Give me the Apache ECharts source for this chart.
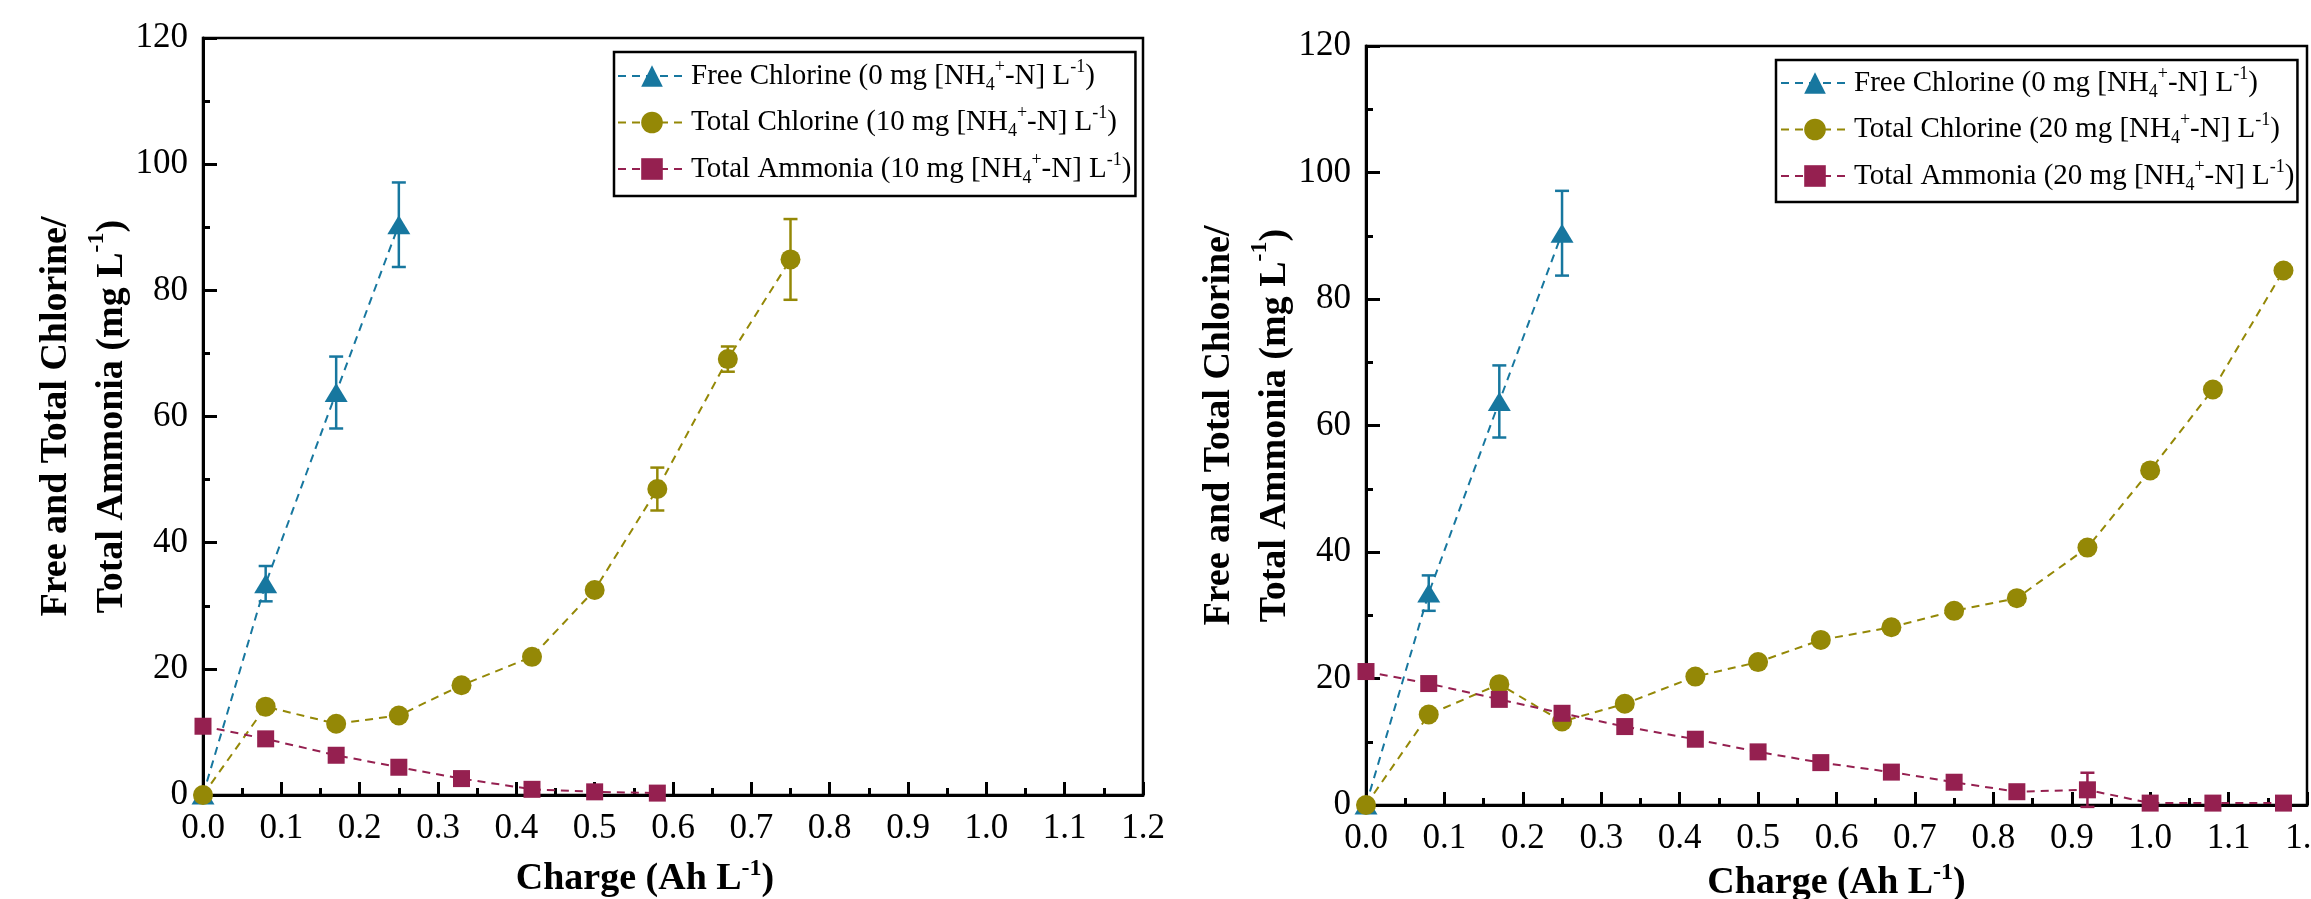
<!DOCTYPE html>
<html>
<head>
<meta charset="utf-8">
<title>Chlorine / Ammonia vs Charge</title>
<script src="https://cdn.jsdelivr.net/npm/echarts@6/dist/echarts.min.js"></script>
<style>
  html, body { margin: 0; padding: 0; background: #fff; }
  #chart { width: 2311px; height: 899px; }
</style>
</head>
<body>
<div id="chart"></div>
<script>
// ---- data ----
const chargeFree = [0, 0.08, 0.17, 0.25];
const freeCl = [0, 33.5, 63.8, 90.4];
const freeClErr = [0, 2.8, 5.7, 6.7];

// left panel: 10 mg NH4+-N / L
const charge10 = [0, 0.08, 0.17, 0.25, 0.33, 0.42, 0.5, 0.58, 0.67, 0.75];
const totalCl10 = [0, 14.0, 11.3, 12.6, 17.4, 21.9, 32.5, 48.5, 69.1, 84.9];
const totalCl10Err = [0, 0, 0, 0, 0, 0, 0, 3.4, 2.0, 6.4];
const chargeNh10 = [0, 0.08, 0.17, 0.25, 0.33, 0.42, 0.5, 0.58];
const ammonia10 = [10.9, 8.9, 6.3, 4.4, 2.6, 0.9, 0.5, 0.3];

// right panel: 20 mg NH4+-N / L
const charge20 = [0, 0.08, 0.17, 0.25, 0.33, 0.42, 0.5, 0.58, 0.67, 0.75, 0.83, 0.92, 1.0, 1.08, 1.17];
const totalCl20 = [0, 14.3, 19.1, 13.2, 16.0, 20.3, 22.6, 26.1, 28.1, 30.7, 32.7, 40.7, 52.9, 65.7, 84.5];
const ammonia20 = [21.1, 19.2, 16.7, 14.5, 12.4, 10.4, 8.4, 6.7, 5.2, 3.6, 2.1, 2.4, 0.3, 0.3, 0.3];
const ammonia20Err = [0, 0, 0, 0, 0, 0, 0, 0, 0, 0, 0, 2.7, 0, 0, 0];

const yTicks = [0, 20, 40, 60, 80, 100, 120];

const BLUE = '#17779f';
const OLIVE = '#948806';
const MAROON = '#952050';
const FONT = 'Liberation Serif';

// legend labels (rich text for sub/superscripts)
const legendText = {
  'Free Chlorine': '{a|Free Chlorine (0 mg [NH}{sub|4}{sup|+}{a|-N] L}{sup|-1}{a|)}',
  'Total Chlorine 10': '{a|Total Chlorine (10 mg [NH}{sub|4}{sup|+}{a|-N] L}{sup|-1}{a|)}',
  'Total Ammonia 10': '{a|Total Ammonia (10 mg [NH}{sub|4}{sup|+}{a|-N] L}{sup|-1}{a|)}',
  'Total Chlorine 20': '{a|Total Chlorine (20 mg [NH}{sub|4}{sup|+}{a|-N] L}{sup|-1}{a|)}',
  'Total Ammonia 20': '{a|Total Ammonia (20 mg [NH}{sub|4}{sup|+}{a|-N] L}{sup|-1}{a|)}'
};

function zip(xs, ys) {
  return ys.map((y, i) => [xs[i], y]);
}

function lineSeries(name, xs, ys, color, symbol, size, idx) {
  return {
    name: name,
    type: 'line',
    xAxisIndex: idx,
    yAxisIndex: idx,
    data: zip(xs, ys),
    symbol: symbol,
    symbolSize: size,
    showAllSymbol: true,
    color: color,
    itemStyle: { color: color },
    lineStyle: { color: color, width: 2, type: [8, 6] },
    z: 3,
    animation: false
  };
}

// error bars drawn through the axes' own coord()
function errorSeries(xs, ys, errs, color, idx) {
  const data = [];
  errs.forEach((e, i) => { if (e > 0) data.push([xs[i], ys[i], e]); });
  return {
    type: 'custom',
    xAxisIndex: idx,
    yAxisIndex: idx,
    data: data,
    encode: { x: 0, y: 1 },
    z: 2,
    animation: false,
    renderItem(params, api) {
      const x = api.value(0), y = api.value(1), e = api.value(2);
      const hi = api.coord([x, y + e]);
      const lo = api.coord([x, y - e]);
      const w = 7;
      const style = { stroke: color, lineWidth: 2.5 };
      return {
        type: 'group',
        children: [
          { type: 'line', shape: { x1: hi[0], y1: hi[1], x2: lo[0], y2: lo[1] }, style: style },
          { type: 'line', shape: { x1: hi[0] - w, y1: hi[1], x2: hi[0] + w, y2: hi[1] }, style: style },
          { type: 'line', shape: { x1: lo[0] - w, y1: lo[1], x2: lo[0] + w, y2: lo[1] }, style: style }
        ]
      };
    }
  };
}

function xAxis(idx, gap, pad) {
  return {
    type: 'value',
    gridIndex: idx,
    min: 0,
    max: 1.2,
    interval: 0.1,
    axisLine: { show: true, onZero: false, lineStyle: { color: '#000', width: 3 } },
    axisTick: { show: true, inside: true, length: 13, lineStyle: { color: '#000', width: 3 } },
    minorTick: { show: true, splitNumber: 2, length: 7, lineStyle: { color: '#000', width: 3 } },
    splitLine: { show: false },
    axisLabel: {
      color: '#000', fontSize: 35, fontFamily: FONT, margin: 16,
      showMinLabel: true, showMaxLabel: true,
      formatter: v => v.toFixed(1)
    },
    name: '{b|Charge (Ah L}{sup|-1}{b|)}',
    nameLocation: 'middle',
    nameGap: gap,
    nameTextStyle: {
      padding: pad,
      rich: {
        b: { fontSize: 38, fontWeight: 'bold', fontFamily: FONT, color: '#000', lineHeight: 44 },
        sup: { fontSize: 24, fontWeight: 'bold', fontFamily: FONT, color: '#000', lineHeight: 22, verticalAlign: 'top' }
      }
    }
  };
}

function yAxis(idx, gap) {
  return {
    type: 'value',
    gridIndex: idx,
    min: yTicks[0],
    max: yTicks[yTicks.length - 1],
    interval: yTicks[1] - yTicks[0],
    axisLine: { show: true, onZero: false, lineStyle: { color: '#000', width: 3 } },
    axisTick: { show: true, inside: true, length: 14, lineStyle: { color: '#000', width: 3 } },
    minorTick: { show: true, splitNumber: 2, length: 7, lineStyle: { color: '#000', width: 3 } },
    splitLine: { show: false },
    axisLabel: { color: '#000', fontSize: 35, fontFamily: FONT, margin: 15 },
    name: '{b|Free and Total Chlorine/}\n{b|Total Ammonia (mg L}{sup|-1}{b|)}',
    nameLocation: 'middle',
    nameRotate: 90,
    nameGap: gap,
    nameTextStyle: {
      rich: {
        b: { fontSize: 38, fontWeight: 'bold', fontFamily: FONT, color: '#000', lineHeight: 56 },
        sup: { fontSize: 24, fontWeight: 'bold', fontFamily: FONT, color: '#000', lineHeight: 30, verticalAlign: 'top' }
      }
    }
  };
}

function legend(idx, names, left, top, pad) {
  return {
    data: names,
    orient: 'vertical',
    left: left,
    top: top,
    padding: pad,
    itemGap: 10.5,
    itemWidth: 68,
    itemHeight: 27,
    borderColor: '#000',
    borderWidth: 2.5,
    selectedMode: false,
    formatter: n => legendText[n],
    textStyle: {
      rich: {
        a: { fontSize: 29, fontFamily: FONT, color: '#000', lineHeight: 36 },
        sub: { fontSize: 18, fontFamily: FONT, color: '#000', lineHeight: 14, verticalAlign: 'bottom' },
        sup: { fontSize: 18, fontFamily: FONT, color: '#000', lineHeight: 20, verticalAlign: 'top' }
      }
    }
  };
}

const chart = echarts.init(document.getElementById('chart'), null, { renderer: 'canvas' });

const option = {
  backgroundColor: '#fff',
  animation: false,
  textStyle: { fontFamily: FONT },
  grid: [
    { left: 203, top: 38, width: 940, height: 757, show: true, borderColor: '#000', borderWidth: 2.5,
      backgroundColor: 'transparent', containLabel: false, outerBoundsMode: 'none' },
    { left: 1366, top: 46, width: 941, height: 759, show: true, borderColor: '#000', borderWidth: 2.5,
      backgroundColor: 'transparent', containLabel: false, outerBoundsMode: 'none' }
  ],
  xAxis: [xAxis(0, 62, [0, 56, 0, 0]), xAxis(1, 47, 0)],
  yAxis: [yAxis(0, 60), yAxis(1, 55)],
  legend: [
    legend(0, ['Free Chlorine', 'Total Chlorine 10', 'Total Ammonia 10'], 614, 52, [6, 4, 9, 3]),
    legend(1, ['Free Chlorine', 'Total Chlorine 20', 'Total Ammonia 20'], 1776, 60, [5, 3, 8, 4])
  ],
  series: [
    // left panel
    errorSeries(chargeFree, freeCl, freeClErr, BLUE, 0),
    errorSeries(charge10, totalCl10, totalCl10Err, OLIVE, 0),
    lineSeries('Free Chlorine', chargeFree, freeCl, BLUE, 'triangle', [23, 19], 0),
    lineSeries('Total Chlorine 10', charge10, totalCl10, OLIVE, 'circle', 20, 0),
    lineSeries('Total Ammonia 10', chargeNh10, ammonia10, MAROON, 'rect', 17, 0),
    // right panel
    errorSeries(chargeFree, freeCl, freeClErr, BLUE, 1),
    errorSeries(charge20, ammonia20, ammonia20Err, MAROON, 1),
    lineSeries('Free Chlorine', chargeFree, freeCl, BLUE, 'triangle', [23, 19], 1),
    lineSeries('Total Chlorine 20', charge20, totalCl20, OLIVE, 'circle', 20, 1),
    lineSeries('Total Ammonia 20', charge20, ammonia20, MAROON, 'rect', 17, 1)
  ]
};

chart.setOption(option);
</script>
</body>
</html>
